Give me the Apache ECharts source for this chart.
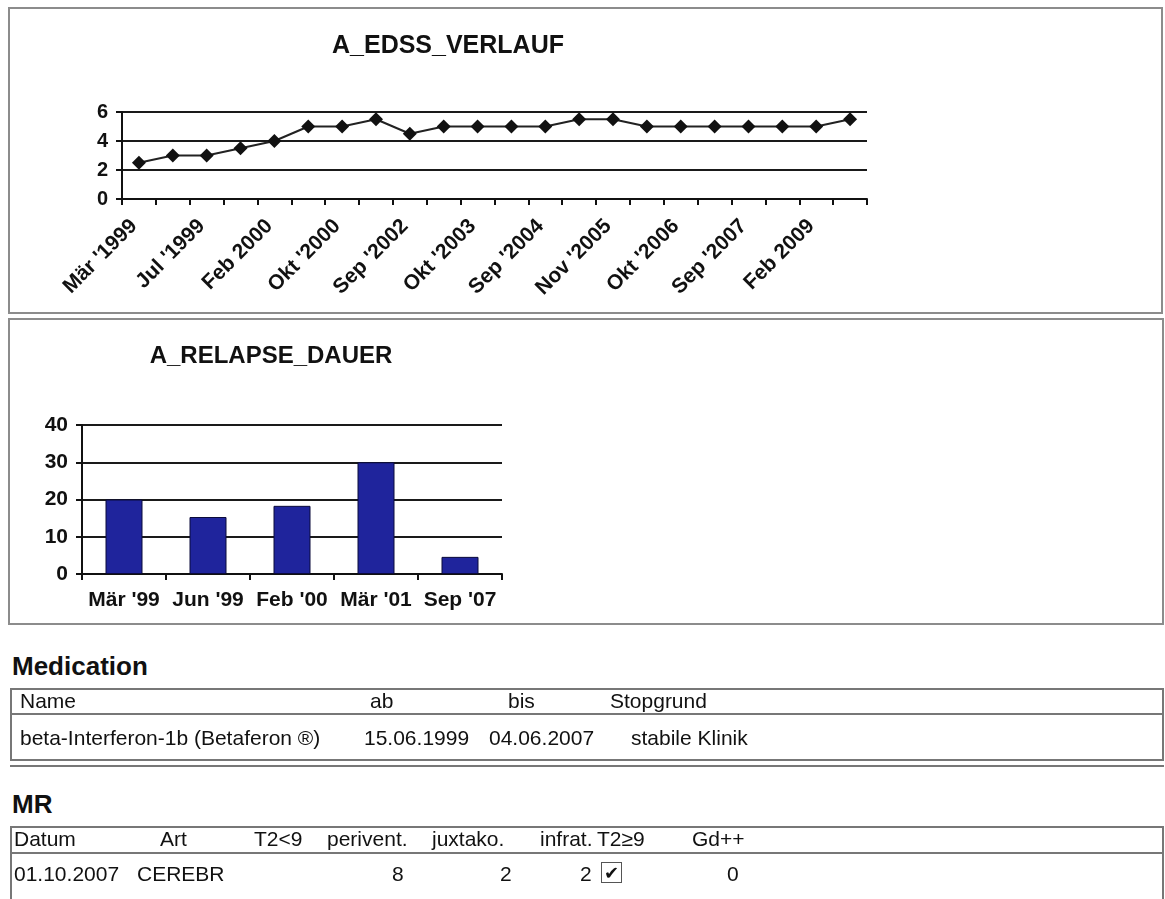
<!DOCTYPE html>
<html>
<head>
<meta charset="utf-8">
<title>A_EDSS_VERLAUF</title>
<script src="https://cdn.jsdelivr.net/npm/echarts@6/dist/echarts.min.js"></script>
<style>
  body { margin: 0; background: #fff; }
  #page {
    position: relative; width: 1165px; height: 899px; overflow: hidden;
    font-family: 'Liberation Sans', Arial, sans-serif; color: #111;
  }
  .panel { position: absolute; border: 2px solid #8c8c8c; box-sizing: border-box; }
  .rule { position: absolute; left: 10px; width: 1154px; height: 0; border-top: 2px solid #777; }
  .vline { position: absolute; width: 0; border-left: 2px solid #777; }
  .head { position: absolute; left: 12px; font-size: 26px; font-weight: bold; line-height: 26px; }
  .cell { position: absolute; font-size: 21px; line-height: 22px; white-space: nowrap; }
  .chk {
    position: absolute; width: 19px; height: 19px; border: 1.5px solid #555;
    font: bold 18px 'DejaVu Sans', sans-serif; line-height: 20px; text-align: center;
  }
  #chart { position: absolute; left: 0; top: 0; width: 1165px; height: 899px; }
</style>
</head>
<body>
<div id="page">
  <div class="panel" style="left:8px; top:7px; width:1155px; height:307px;"></div>
  <div class="panel" style="left:8px; top:318px; width:1156px; height:307px;"></div>

  <div class="head" style="top:653px;">Medication</div>
  <div class="rule" style="top:688px;"></div>
  <div class="rule" style="top:713px;"></div>
  <div class="rule" style="top:759px;"></div>
  <div class="rule" style="top:765px;"></div>
  <div class="vline" style="left:10px; top:688px; height:73px;"></div>
  <div class="vline" style="left:1162px; top:688px; height:73px;"></div>

  <div class="head" style="top:791px;">MR</div>
  <div class="rule" style="top:826px;"></div>
  <div class="rule" style="top:852px;"></div>
  <div class="vline" style="left:10px; top:826px; height:80px;"></div>
  <div class="vline" style="left:1162px; top:826px; height:80px;"></div>

  <div id="chart"></div>
</div>
<script>
// EDSS course (every second date is printed on the axis)
const edssDates = [
  "Mär '1999", "Jun '1999", "Jul '1999", "Okt '1999", "Feb 2000", "Jun '2000",
  "Okt '2000", "Mär '2001", "Sep '2002", "Mär '2003", "Okt '2003", "Mär '2004",
  "Sep '2004", "Apr '2005", "Nov '2005", "Mai '2006", "Okt '2006", "Apr '2007",
  "Sep '2007", "Apr '2008", "Feb 2009", "Aug '2009"
];
const edssValues = [
  2.5, 3, 3, 3.5, 4, 5, 5, 5.5, 4.5, 5, 5,
  5, 5, 5.5, 5.5, 5, 5, 5, 5, 5, 5, 5.5
];

// relapse duration
const relapseDates = ["Mär '99", "Jun '99", "Feb '00", "Mär '01", "Sep '07"];
const relapseDays = [20, 15.3, 18.3, 30, 4.6];

// tables
const medHeader = ['Name', 'ab', 'bis', 'Stopgrund'];
const medRow = ['beta-Interferon-1b (Betaferon ®)', '15.06.1999', '04.06.2007', 'stabile Klinik'];
const mrHeader = ['Datum', 'Art', 'T2<9', 'perivent.', 'juxtako.', 'infrat.', 'T2≥9', 'Gd++'];
const mrRow = ['01.10.2007', 'CEREBR', '', '8', '2', '2', '✔', '0'];

// column positions
const medHeadX = [20, 370, 508, 610];
const medRowX = [20, 364, 489, 631];
const mrHeadX = [14, 160, 254, 327, 432, 540, 597, 692];
const mrRowX = [14, 137, 0, 392, 500, 580, 601, 727];

const page = document.getElementById('page');
function addRow(texts, xs, top) {
  texts.forEach((t, i) => {
    if (!t) return;
    const el = document.createElement('div');
    if (t === '✔') {
      el.className = 'chk';
      el.style.top = (top - 1) + 'px';
    } else {
      el.className = 'cell';
      el.style.top = top + 'px';
    }
    el.style.left = xs[i] + 'px';
    el.textContent = t;
    page.appendChild(el);
  });
}
addRow(medHeader, medHeadX, 690);
addRow(medRow, medRowX, 727);
addRow(mrHeader, mrHeadX, 828);
addRow(mrRow, mrRowX, 863);

const font = "'Liberation Sans', Arial, sans-serif";
const ink = '#111';
const axisLine = { show: true, lineStyle: { color: ink, width: 2 } };
const axisTick = { show: true, length: 6, lineStyle: { color: ink, width: 2 } };
const splitLine = { show: true, lineStyle: { color: '#1a1a1a', width: 2 } };

const myChart = echarts.init(document.getElementById('chart'), null, { renderer: 'canvas' });

const option = {
  animation: false,
  title: [
    {
      text: 'A_EDSS_VERLAUF', left: 448, top: 34, textAlign: 'center', padding: 0,
      textStyle: { color: ink, fontSize: 25, fontWeight: 'bold', fontFamily: font }
    },
    {
      text: 'A_RELAPSE_DAUER', left: 271, top: 344, textAlign: 'center', padding: 0,
      textStyle: { color: ink, fontSize: 24, fontWeight: 'bold', fontFamily: font }
    }
  ],
  grid: [
    { left: 122, top: 112, width: 745, height: 87 },
    { left: 82, top: 425, width: 420, height: 149 }
  ],
  xAxis: [
    {
      type: 'category', gridIndex: 0, data: edssDates, boundaryGap: true,
      axisLine: axisLine,
      axisTick: Object.assign({ interval: 0 }, axisTick),
      axisLabel: {
        interval: 1, rotate: 45, margin: 19, padding: [0, 7, 0, 0], color: ink,
        fontSize: 21, fontWeight: 'bold', fontFamily: font
      }
    },
    {
      type: 'category', gridIndex: 1, data: relapseDates, boundaryGap: true,
      axisLine: axisLine, axisTick: axisTick,
      axisLabel: {
        interval: 0, margin: 16, color: ink,
        fontSize: 21, fontWeight: 'bold', fontFamily: font
      }
    }
  ],
  yAxis: [
    {
      type: 'value', gridIndex: 0, min: 0, max: 6, interval: 2,
      axisLine: axisLine, axisTick: axisTick, splitLine: splitLine,
      axisLabel: { margin: 14, color: ink, fontSize: 20, fontWeight: 'bold', fontFamily: font }
    },
    {
      type: 'value', gridIndex: 1, min: 0, max: 40, interval: 10,
      axisLine: axisLine, axisTick: axisTick, splitLine: splitLine,
      axisLabel: { margin: 14, color: ink, fontSize: 21, fontWeight: 'bold', fontFamily: font }
    }
  ],
  series: [
    {
      name: 'EDSS', type: 'line', xAxisIndex: 0, yAxisIndex: 0,
      data: edssValues,
      symbol: 'diamond', symbolSize: 14,
      lineStyle: { color: '#222', width: 2 },
      itemStyle: { color: ink }
    },
    {
      name: 'Dauer', type: 'bar', xAxisIndex: 1, yAxisIndex: 1,
      data: relapseDays, barWidth: 37,
      itemStyle: { color: '#1f249c', borderColor: '#0b0b3a', borderWidth: 1 }
    }
  ]
};

myChart.setOption(option);
window.addEventListener('resize', () => myChart.resize());
</script>
</body>
</html>
